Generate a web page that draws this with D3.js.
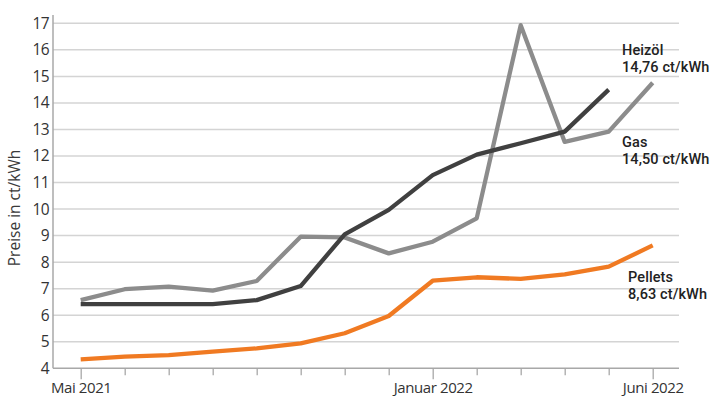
<!DOCTYPE html>
<html>
<head>
<meta charset="utf-8">
<script src="https://cdn.jsdelivr.net/npm/d3@7"></script>
<style>
  html, body { margin: 0; padding: 0; background: #fff; }
  svg { display: block; font-family: "Open Sans", sans-serif; }
</style>
</head>
<body>
<svg id="chart" width="717" height="396"></svg>
<script>
// Monthly energy prices, May 2021 – June 2022 (ct/kWh)
const months = ["Mai 2021", "Jun 2021", "Jul 2021", "Aug 2021", "Sep 2021", "Okt 2021", "Nov 2021",
                "Dez 2021", "Januar 2022", "Feb 2022", "Mär 2022", "Apr 2022", "Mai 2022", "Juni 2022"];
const labelledMonths = ["Mai 2021", "Januar 2022", "Juni 2022"];
const heizoel = [6.57, 6.98, 7.08, 6.93, 7.29, 8.96, 8.93, 8.33, 8.77, 9.65, 16.93, 12.53, 12.92, 14.76];
const gas     = [6.42, 6.42, 6.42, 6.42, 6.57, 7.10, 9.05, 9.97, 11.28, 12.05, 12.48, 12.92, 14.50, null];
const pellets = [4.34, 4.44, 4.50, 4.63, 4.75, 4.94, 5.32, 5.97, 7.30, 7.43, 7.37, 7.54, 7.83, 8.63];
const yTicks = [4, 5, 6, 7, 8, 9, 10, 11, 12, 13, 14, 15, 16, 17];

const svg = d3.select("#chart");
const axisLeftX = 53, axisRightX = 679;

const x = d3.scaleLinear().domain([0, months.length - 1]).range([80.7, 652.7]);
const y = d3.scaleLinear().domain([4, 17]).range([368.3, 23.3]);

// horizontal gridlines
svg.append("g").selectAll("line")
  .data(yTicks.filter(t => t > 4))
  .join("line")
  .attr("x1", axisLeftX).attr("x2", axisRightX)
  .attr("y1", d => y(d)).attr("y2", d => y(d))
  .attr("stroke", "#d4d4d4").attr("stroke-width", 1.5);

// y axis
const yAxis = svg.append("g")
  .attr("transform", `translate(${axisLeftX},0)`)
  .call(d3.axisLeft(y).tickValues(yTicks).tickSize(0).tickPadding(4).tickFormat(d3.format("d")));
yAxis.select(".domain").attr("stroke", "#a8a8a8").attr("stroke-width", 1.5)
  .attr("d", `M0,${y(4)}V15`);
yAxis.selectAll("text").attr("font-size", 15.5).attr("fill", "#333")
  .attr("letter-spacing", -0.6)
  .attr("font-family", "'Open Sans', sans-serif");

// x axis
const xAxis = svg.append("g")
  .attr("transform", `translate(0,${y(4)})`)
  .call(d3.axisBottom(x).tickValues(d3.range(months.length)).tickSize(7)
        .tickFormat(i => labelledMonths.includes(months[i]) ? months[i] : ""));
xAxis.select(".domain").attr("stroke", "#a8a8a8").attr("stroke-width", 1.5)
  .attr("d", `M${axisLeftX},0H${axisRightX}`);
xAxis.selectAll(".tick line").attr("stroke", "#a8a8a8").attr("stroke-width", 1.3)
  .attr("y2", i => labelledMonths.includes(months[i]) ? 11 : 7);
xAxis.selectAll(".tick text").attr("font-size", 15).attr("fill", "#333")
  .attr("letter-spacing", -0.4)
  .attr("font-family", "'Open Sans', sans-serif")
  .attr("y", 14).attr("dy", "0.71em");

// axis title
svg.append("text")
  .attr("transform", `translate(20,${208}) rotate(-90)`)
  .attr("text-anchor", "middle")
  .attr("font-size", 15.5).attr("fill", "#3a3a3a")
  .text("Preise in ct/kWh");

// lines
const line = d3.line()
  .defined(d => d != null)
  .x((d, i) => x(i)).y(d => y(d));

const series = [
  { values: pellets, color: "#f07a22" },
  { values: heizoel, color: "#8c8c8c" },
  { values: gas, color: "#404040" }
];
svg.append("g").selectAll("path")
  .data(series)
  .join("path")
  .attr("fill", "none")
  .attr("stroke", d => d.color)
  .attr("stroke-width", 4.3)
  .attr("stroke-linejoin", "round")
  .attr("d", d => line(d.values));

// end labels: name on the first line, latest price below
const labels = [
  { name: "Heizöl", value: "14,76 ct/kWh", x: 622, y: 55 },
  { name: "Gas", value: "14,50 ct/kWh", x: 622, y: 147 },
  { name: "Pellets", value: "8,63 ct/kWh", x: 628, y: 282 }
];
const lg = svg.append("g").selectAll("g").data(labels).join("g")
  .attr("font-family", "Roboto, sans-serif").attr("font-weight", 500)
  .attr("font-size", 14.5).attr("fill", "#222").attr("letter-spacing", 0.1);
lg.append("text").attr("x", d => d.x).attr("y", d => d.y).text(d => d.name);
lg.append("text").attr("x", d => d.x).attr("y", d => d.y + 17).text(d => d.value);
</script>
</body>
</html>
